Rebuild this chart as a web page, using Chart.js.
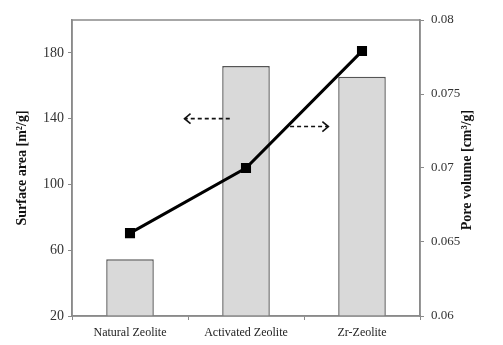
<!DOCTYPE html>
<html><head><meta charset="utf-8">
<script src="https://cdn.jsdelivr.net/npm/chart.js@4.4.0/dist/chart.umd.min.js"></script>
<style>html,body{margin:0;padding:0;background:#fff}#wrap{width:503px;height:345px}</style>
</head><body><div id="wrap"><canvas id="c" width="503" height="345"></canvas></div>
<script>
const categories = ["Natural Zeolite", "Activated Zeolite", "Zr-Zeolite"];
const surfaceArea = [54.5, 172, 165.5];
const poreVolume = [0.0656, 0.0700, 0.0779];
const leftTicks = [20, 60, 100, 140, 180];
const rightTicks = [0.06, 0.065, 0.07, 0.075, 0.08];
const leftTitle = "Surface area [m\u00B2/g]";
const rightTitle = "Pore volume [cm\u00B3/g]";
// annotation arrows: [fromCategory, toCategory, value, axis]
const arrowLeft = [0.86, 0.47, 140, 'y'];
const arrowRight = [1.38, 1.71, 0.0728, 'y1'];

const serif = "'Liberation Serif', 'DejaVu Serif', serif";
const axisColor = '#8a8a8a';

const decor = {
  id: 'decor',
  afterDatasetsDraw(chart) {
    const ctx = chart.ctx, a = chart.chartArea;
    ctx.save();
    ctx.strokeStyle = axisColor; ctx.lineWidth = 1.5;
    ctx.strokeRect(a.left, a.top, a.right - a.left, a.bottom - a.top);
    const xs = chart.scales.x;
    [arrowLeft, arrowRight].forEach(([f, t, v, ax]) => {
      const x1 = xs.getPixelForValue(f), x2 = xs.getPixelForValue(t);
      const y = chart.scales[ax].getPixelForValue(v);
      ctx.strokeStyle = '#111'; ctx.lineWidth = 1.6;
      ctx.setLineDash([4, 3]);
      ctx.beginPath(); ctx.moveTo(x1, y); ctx.lineTo(x2, y); ctx.stroke();
      ctx.setLineDash([]);
      const d = x2 > x1 ? -1 : 1;
      ctx.beginPath(); ctx.moveTo(x2 + d * 6, y - 5); ctx.lineTo(x2, y); ctx.lineTo(x2 + d * 6, y + 5); ctx.stroke();
    });
    ctx.restore();
  },
  afterDraw(chart) {
    const ctx = chart.ctx, a = chart.chartArea;
    const cy = (a.top + a.bottom) / 2;
    ctx.save();
    ctx.fillStyle = '#111';
    ctx.font = "bold 14px " + serif;
    ctx.textAlign = 'center'; ctx.textBaseline = 'middle';
    ctx.translate(22, cy); ctx.rotate(-Math.PI / 2); ctx.fillText(leftTitle, 0, 0);
    ctx.setTransform(1, 0, 0, 1, 0, 0);
    ctx.translate(467, cy + 2); ctx.rotate(-Math.PI / 2); ctx.fillText(rightTitle, 0, 0);
    ctx.restore();
  }
};

new Chart(document.getElementById('c'), {
  type: 'bar',
  data: {
    labels: categories,
    datasets: [
      { type: 'line', data: poreVolume, yAxisID: 'y1', order: 0,
        borderColor: '#000', borderWidth: 3, pointStyle: 'rect', pointRadius: 5,
        pointBackgroundColor: '#000', pointBorderColor: '#000', tension: 0 },
      { type: 'bar', data: surfaceArea, yAxisID: 'y', order: 1,
        backgroundColor: '#d9d9d9', borderColor: '#555', borderWidth: 1.4,
        categoryPercentage: 1, barPercentage: 0.41 }
    ]
  },
  options: {
    responsive: false, animation: false,
    layout: { padding: { top: 20, right: 0, left: 0, bottom: 0 } },
    plugins: { legend: { display: false }, tooltip: { enabled: false } },
    scales: {
      x: {
        grid: { offset: true, drawOnChartArea: false, drawTicks: true, tickLength: 4, color: axisColor },
        border: { color: axisColor, width: 1.5 },
        ticks: { color: '#222', font: { family: serif, size: 12 }, padding: 6, maxRotation: 0 },
        afterFit(s) { s.height = 29; }
      },
      y: {
        position: 'left', min: 20, max: 200,
        afterBuildTicks(s) { s.ticks = leftTicks.map(v => ({ value: v })); },
        grid: { drawOnChartArea: false, drawTicks: true, tickLength: 4, color: axisColor },
        border: { color: axisColor, width: 1.5 },
        ticks: { color: '#333', font: { family: serif, size: 14 }, padding: 4 },
        afterFit(s) { s.width = 72; }
      },
      y1: {
        position: 'right', min: 0.06, max: 0.08,
        afterBuildTicks(s) { s.ticks = rightTicks.map(v => ({ value: v })); },
        grid: { drawOnChartArea: false, drawTicks: true, tickLength: 4, color: axisColor },
        border: { color: axisColor, width: 1.5 },
        ticks: { color: '#333', font: { family: serif, size: 13 }, padding: 7,
          callback: v => String(+v.toFixed(3)) },
        afterFit(s) { s.width = 83; }
      }
    }
  },
  plugins: [decor]
});
</script></body></html>
